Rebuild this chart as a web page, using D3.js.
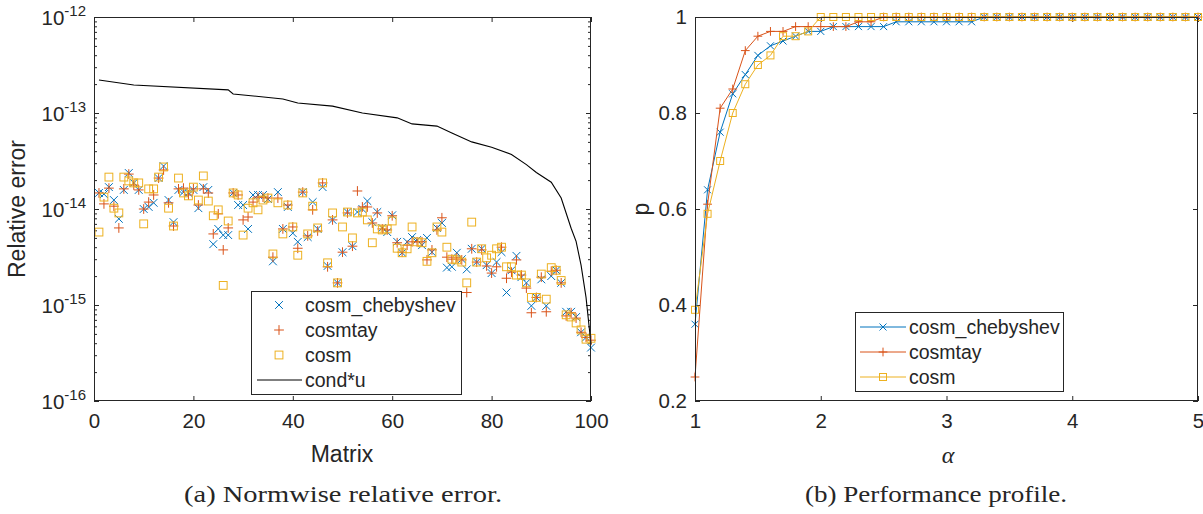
<!DOCTYPE html>
<html>
<head>
<meta charset="utf-8">
<script src="https://cdn.jsdelivr.net/npm/d3@7"></script>
<style>
  body { margin: 0; background: #fff; }
  svg { display: block; }
  text { font-family: "Liberation Sans", Arial, sans-serif; fill: #262626; }
</style>
</head>
<body>
<div id="chart"></div>
<script>
// ---- data: normwise relative error, matrices 1..100 ----
const matrices = d3.range(1, 101);

const errCheb = [14.7e-15,14.3e-15,16.9e-15,12.4e-15,7.9e-15,15.8e-15,23.7e-15,18.7e-15,15.8e-15,10.0e-15,
  10.5e-15,11.6e-15,21.0e-15,28.0e-15,12.4e-15,7.3e-15,15.8e-15,15.0e-15,14.7e-15,15.8e-15,
  10.2e-15,16.9e-15,15.8e-15,4.3e-15,6.2e-15,5.35e-15,5.35e-15,14.7e-15,11.0e-15,11.0e-15,
  6.2e-15,14.0e-15,14.0e-15,14.0e-15,12.7e-15,2.85e-15,15.0e-15,6.2e-15,10.5e-15,5.6e-15,
  4.55e-15,15.0e-15,5.1e-15,11.8e-15,6.2e-15,16.9e-15,2.55e-15,7.7e-15,1.7e-15,3.55e-15,
  9.3e-15,4.1e-15,9.3e-15,10.0e-15,12.1e-15,7.3e-15,9.3e-15,6.35e-15,5.75e-15,8.6e-15,
  4.55e-15,3.5e-15,4.55e-15,5.1e-15,4.75e-15,4.2e-15,5.0e-15,3.55e-15,6.35e-15,7.15e-15,
  2.45e-15,2.5e-15,3.5e-15,3.0e-15,2.35e-15,3.85e-15,2.8e-15,3.85e-15,2.6e-15,2.15e-15,
  2.8e-15,3.55e-15,1.35e-15,2.3e-15,3.25e-15,1.95e-15,1.7e-15,0.98e-15,1.2e-15,1.85e-15,
  0.98e-15,2.0e-15,2.3e-15,1.7e-15,0.85e-15,0.85e-15,0.75e-15,0.52e-15,0.46e-15,0.36e-15];

const errTay = [14.7e-15,11.3e-15,16.5e-15,10.7e-15,6.35e-15,16.2e-15,23.1e-15,17.8e-15,15.8e-15,10.0e-15,
  11.8e-15,14.0e-15,21.0e-15,25.5e-15,11.6e-15,6.65e-15,16.2e-15,16.5e-15,14.0e-15,16.2e-15,
  11.0e-15,16.2e-15,14.7e-15,5.5e-15,8.9e-15,3.75e-15,6.35e-15,14.7e-15,14.0e-15,7.7e-15,
  8.25e-15,11.8e-15,13.3e-15,13.3e-15,13.0e-15,3.15e-15,13.0e-15,6.2e-15,11.0e-15,6.5e-15,
  3.9e-15,15.0e-15,5.25e-15,9.8e-15,5.9e-15,18.7e-15,2.5e-15,7.7e-15,1.7e-15,3.55e-15,
  9.1e-15,4.1e-15,15.4e-15,10.5e-15,10.5e-15,7.15e-15,9.1e-15,6.2e-15,6.05e-15,8.5e-15,
  4.45e-15,3.55e-15,4.2e-15,4.55e-15,4.55e-15,4.55e-15,2.95e-15,3.75e-15,6.05e-15,8.1e-15,
  3.15e-15,3.0e-15,3.1e-15,2.95e-15,1.35e-15,3.85e-15,2.8e-15,3.75e-15,2.55e-15,2.15e-15,
  2.5e-15,4.0e-15,1.9e-15,2.2e-15,2.95e-15,2.05e-15,1.5e-15,0.83e-15,1.2e-15,1.95e-15,
  0.85e-15,2.25e-15,2.3e-15,1.7e-15,0.77e-15,0.83e-15,0.73e-15,0.52e-15,0.46e-15,0.43e-15];

const errCosm = [5.75e-15,13.3e-15,21.5e-15,10.2e-15,9.1e-15,21.5e-15,19.6e-15,18.7e-15,18.7e-15,7.0e-15,
  16.2e-15,16.2e-15,21.5e-15,27.4e-15,10.2e-15,6.65e-15,21.0e-15,14.7e-15,13.7e-15,16.9e-15,
  12.4e-15,22.1e-15,12.1e-15,8.5e-15,9.8e-15,1.6e-15,7.5e-15,14.7e-15,14.0e-15,5.35e-15,
  10.2e-15,11.6e-15,9.8e-15,12.4e-15,13.0e-15,3.4e-15,11.6e-15,5.5e-15,11.0e-15,6.5e-15,
  3.3e-15,14.7e-15,5.5e-15,10.7e-15,6.35e-15,18.7e-15,2.75e-15,9.1e-15,1.7e-15,6.5e-15,
  9.3e-15,5.0e-15,9.1e-15,9.3e-15,7.7e-15,4.45e-15,6.2e-15,6.05e-15,6.2e-15,7.5e-15,
  3.9e-15,3.5e-15,3.85e-15,6.5e-15,4.55e-15,4.45e-15,2.85e-15,3.5e-15,6.5e-15,5.75e-15,
  4.0e-15,3.0e-15,2.95e-15,2.8e-15,1.7e-15,7.3e-15,2.8e-15,3.85e-15,3.1e-15,3.3e-15,
  3.85e-15,4.0e-15,2.5e-15,2.5e-15,2.05e-15,2.05e-15,1.7e-15,1.2e-15,1.2e-15,2.1e-15,
  1.15e-15,2.45e-15,2.3e-15,1.8e-15,0.79e-15,0.75e-15,0.65e-15,0.55e-15,0.44e-15,0.45e-15];

// cond*u, read at the matrices where the curve bends
const condIdx = [1, 8, 27, 28, 38, 41, 48, 54, 61, 64, 69, 72, 76, 80, 84, 87, 89, 92, 94, 96, 97, 98, 99, 100];
const condVal = [2.21e-13,1.96e-13,1.74e-13,1.58e-13,1.40e-13,1.27e-13,1.18e-13,1.00e-13,8.9e-14,7.7e-14,
  7.3e-14,6.2e-14,5.0e-14,4.4e-14,3.7e-14,2.9e-14,2.4e-14,1.9e-14,1.3e-14,6.3e-15,4.6e-15,2.6e-15,1.2e-15,3.9e-16];

// ---- data: performance profile ----
const alpha = d3.range(10, 51).map(d => d / 10);
const profCheb = [0.36,0.64,0.76,0.84,0.88,0.92,0.94,0.95,0.96,0.97,0.97,0.98,0.98,0.98,0.98,0.98,0.99,0.99,0.99,0.99,0.99,0.99,0.99,
  1,1,1,1,1,1,1,1,1,1,1,1,1,1,1,1,1,1];
const profTay = [0.25,0.61,0.81,0.85,0.93,0.96,0.97,0.97,0.98,0.98,0.98,0.98,0.98,0.99,0.99,
  1,1,1,1,1,1,1,1,1,1,1,1,1,1,1,1,1,1,1,1,1,1,1,1,1,1];
const profCosm = [0.39,0.59,0.70,0.80,0.86,0.90,0.92,0.96,0.96,0.97,
  1,1,1,1,1,1,1,1,1,1,1,1,1,1,1,1,1,1,1,1,1,1,1,1,1,1,1,1,1,1,1];

const names = ["cosm_chebyshev", "cosmtay", "cosm"];
const colors = ["#0072BD", "#D95319", "#EDB120"];
const markers = ["x", "plus", "square"];

const svg = d3.select("#chart").append("svg")
  .attr("width", 1203).attr("height", 514);

const axisColor = "#262626";
const serif = "'Liberation Serif', 'DejaVu Serif', serif";

function drawMarker(g, type, cx, cy, color, s) {
  if (type === "x") {
    g.append("path").attr("d", `M${cx - s},${cy - s}L${cx + s},${cy + s}M${cx - s},${cy + s}L${cx + s},${cy - s}`)
      .attr("stroke", color).attr("stroke-width", 1).attr("fill", "none");
  } else if (type === "plus") {
    const t = s * 1.25;
    g.append("path").attr("d", `M${cx - t},${cy}L${cx + t},${cy}M${cx},${cy - t}L${cx},${cy + t}`)
      .attr("stroke", color).attr("stroke-width", 1).attr("fill", "none");
  } else {
    g.append("rect").attr("x", cx - s).attr("y", cy - s).attr("width", 2 * s).attr("height", 2 * s)
      .attr("stroke", color).attr("stroke-width", 1).attr("fill", "none");
  }
}

function styleAxis(g) {
  g.select(".domain").remove();
  g.selectAll(".tick line").attr("stroke", axisColor);
  g.selectAll(".tick text").attr("font-size", 20.5).attr("fill", axisColor)
    .style("font-family", "'Liberation Sans', Arial, sans-serif");
}

// ================= left: relative error =================
const L = { x0: 94, x1: 591, y0: 17, y1: 401 };
const xL = d3.scaleLinear().domain([0, 100]).range([L.x0, L.x1]);
const yL = d3.scaleLog().domain([1e-16, 1e-12]).range([L.y1, L.y0]);

const decades = [1e-16, 1e-15, 1e-14, 1e-13, 1e-12];
const minor = [];
decades.slice(0, 4).forEach(d => { for (let k = 2; k <= 9; k++) minor.push(d * k); });

const gl = svg.append("g");

gl.append("g").attr("transform", `translate(0,${L.y1})`)
  .call(d3.axisBottom(xL).tickValues([0, 20, 40, 60, 80, 100]).tickSizeInner(-5).tickSizeOuter(0).tickPadding(12))
  .call(styleAxis);
gl.append("g").attr("transform", `translate(0,${L.y0})`)
  .call(d3.axisTop(xL).tickValues([0, 20, 40, 60, 80, 100]).tickSizeInner(-5).tickSizeOuter(0).tickFormat(""))
  .call(styleAxis);
gl.append("g").attr("transform", `translate(${L.x0},0)`)
  .call(d3.axisLeft(yL).tickValues(decades).tickSizeInner(-5).tickSizeOuter(0).tickFormat(""))
  .call(styleAxis);
gl.append("g").attr("transform", `translate(${L.x0},0)`)
  .call(d3.axisLeft(yL).tickValues(minor).tickSizeInner(-3).tickSizeOuter(0).tickFormat(""))
  .call(styleAxis);
gl.append("g").attr("transform", `translate(${L.x1},0)`)
  .call(d3.axisRight(yL).tickValues(decades).tickSizeInner(-5).tickSizeOuter(0).tickFormat(""))
  .call(styleAxis);
gl.append("g").attr("transform", `translate(${L.x1},0)`)
  .call(d3.axisRight(yL).tickValues(minor).tickSizeInner(-3).tickSizeOuter(0).tickFormat(""))
  .call(styleAxis);

// log tick labels 10^n
decades.forEach(d => {
  const t = gl.append("text").attr("x", 86).attr("y", yL(d) + 8).attr("text-anchor", "end")
    .attr("font-size", 20.5);
  t.append("tspan").text("10");
  t.append("tspan").attr("dy", -9).attr("font-size", 15).text(String(Math.round(Math.log10(d))));
});

// scatter series
const series = [errCheb, errTay, errCosm];
const gm = gl.append("g");
series.forEach((vals, s) => {
  vals.forEach((v, i) => {
    drawMarker(gm, markers[s], xL(matrices[i]), yL(v), colors[s], 3.9);
  });
});

// cond*u
gl.append("path")
  .datum(condIdx.map((d, i) => [d, condVal[i]]))
  .attr("fill", "none").attr("stroke", "#000").attr("stroke-width", 1.1)
  .attr("d", d3.line().x(d => xL(d[0])).y(d => yL(d[1])));

gl.append("rect").attr("x", L.x0 + 0.5).attr("y", L.y0 + 0.5).attr("width", L.x1 - L.x0 - 1).attr("height", L.y1 - L.y0 - 1)
  .attr("fill", "none").attr("stroke", axisColor).attr("stroke-width", 1);

// legend
const lg = gl.append("g");
lg.append("rect").attr("x", 251.5).attr("y", 291.5).attr("width", 210).attr("height", 103)
  .attr("fill", "#fff").attr("stroke", axisColor).attr("stroke-width", 1);
names.forEach((n, i) => {
  const cy = 305 + i * 25;
  drawMarker(lg, markers[i], 279, cy, colors[i], 3.9);
  lg.append("text").attr("x", 305).attr("y", cy + 7).attr("font-size", 19.5).text(n);
});
lg.append("line").attr("x1", 257).attr("x2", 302).attr("y1", 380).attr("y2", 380)
  .attr("stroke", "#000").attr("stroke-width", 1.1);
lg.append("text").attr("x", 305).attr("y", 387).attr("font-size", 19.5).text("cond*u");

gl.append("text").attr("x", 342).attr("y", 462).attr("text-anchor", "middle").attr("font-size", 23).text("Matrix");
gl.append("text").attr("transform", "translate(25,209) rotate(-90)").attr("text-anchor", "middle")
  .attr("font-size", 23).text("Relative error");

svg.append("text").attr("x", 343).attr("y", 502).attr("text-anchor", "middle")
  .style("font-family", serif).attr("font-size", 23).attr("fill", "#000")
  .attr("textLength", 318).attr("lengthAdjust", "spacingAndGlyphs")
  .text("(a) Normwise relative error.");

// ================= right: performance profile =================
const R = { x0: 695, x1: 1198, y0: 17, y1: 401 };
const xR = d3.scaleLinear().domain([1, 5]).range([R.x0, R.x1]);
const yR = d3.scaleLinear().domain([0.2, 1]).range([R.y1, R.y0]);
const pTicks = [0.2, 0.4, 0.6, 0.8, 1];

const gr = svg.append("g");
gr.append("g").attr("transform", `translate(0,${R.y1})`)
  .call(d3.axisBottom(xR).tickValues([1, 2, 3, 4, 5]).tickSizeInner(-5).tickSizeOuter(0).tickPadding(12)
    .tickFormat(d3.format("d")))
  .call(styleAxis);
gr.append("g").attr("transform", `translate(0,${R.y0})`)
  .call(d3.axisTop(xR).tickValues([1, 2, 3, 4, 5]).tickSizeInner(-5).tickSizeOuter(0).tickFormat(""))
  .call(styleAxis);
gr.append("g").attr("transform", `translate(${R.x0},0)`)
  .call(d3.axisLeft(yR).tickValues(pTicks).tickSizeInner(-5).tickSizeOuter(0).tickPadding(8)
    .tickFormat(d => d === 1 ? "1" : d3.format(".1f")(d)))
  .call(styleAxis);
gr.append("g").attr("transform", `translate(${R.x1},0)`)
  .call(d3.axisRight(yR).tickValues(pTicks).tickSizeInner(-5).tickSizeOuter(0).tickFormat(""))
  .call(styleAxis);

const profiles = [profCheb, profTay, profCosm];
profiles.forEach((vals, s) => {
  const pts = alpha.map((a, i) => [a, vals[i]]);
  gr.append("path").datum(pts)
    .attr("fill", "none").attr("stroke", colors[s]).attr("stroke-width", 1)
    .attr("d", d3.line().x(d => xR(d[0])).y(d => yR(d[1])));
  const gmk = gr.append("g");
  pts.forEach(p => drawMarker(gmk, markers[s], xR(p[0]), yR(p[1]), colors[s], 3.5));
});

gr.append("rect").attr("x", R.x0 + 0.5).attr("y", R.y0 + 0.5).attr("width", R.x1 - R.x0 - 1).attr("height", R.y1 - R.y0 - 1)
  .attr("fill", "none").attr("stroke", axisColor).attr("stroke-width", 1);

const rg = gr.append("g");
rg.append("rect").attr("x", 855.5).attr("y", 312.5).attr("width", 208).attr("height", 79)
  .attr("fill", "#fff").attr("stroke", axisColor).attr("stroke-width", 1);
names.forEach((n, i) => {
  const cy = 327 + i * 25;
  rg.append("line").attr("x1", 860).attr("x2", 906).attr("y1", cy).attr("y2", cy)
    .attr("stroke", colors[i]).attr("stroke-width", 1);
  drawMarker(rg, markers[i], 883, cy, colors[i], 3.5);
  rg.append("text").attr("x", 909).attr("y", cy + 7).attr("font-size", 19.5).text(n);
});

gr.append("text").attr("x", 948).attr("y", 463).attr("text-anchor", "middle")
  .style("font-family", serif).style("font-style", "italic")
  .attr("font-size", 24).attr("fill", "#000").text("α");
gr.append("text").attr("transform", "translate(649,209) rotate(-90)").attr("text-anchor", "middle")
  .attr("font-size", 23).text("p");

svg.append("text").attr("x", 936).attr("y", 502).attr("text-anchor", "middle")
  .style("font-family", serif).attr("font-size", 23).attr("fill", "#000")
  .attr("textLength", 262).attr("lengthAdjust", "spacingAndGlyphs")
  .text("(b) Performance profile.");
</script>
</body>
</html>
